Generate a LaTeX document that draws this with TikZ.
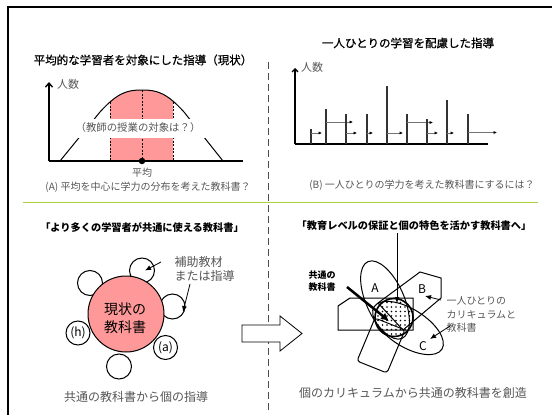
\documentclass[tikz,border=0pt]{standalone}
\usepackage{fontspec}
\newfontfamily\jpfont{Noto Sans CJK JP}
\newfontfamily\jpmedium[FakeBold=0.8]{Noto Sans CJK JP}
\usepackage{tikz}
\usetikzlibrary{arrows.meta}
\usetikzlibrary{patterns.meta}
\definecolor{pinkfill}{RGB}{255,153,153}
\definecolor{limeline}{RGB}{170,208,60}
\definecolor{captiongray}{RGB}{85,85,85}

\begin{document}
\begin{tikzpicture}[x=1pt, y=-1pt,
        every node/.style={font=\jpfont},
        title_style/.style={font=\jpmedium\fontsize{11.5}{14}\selectfont},
        bold_title_style/.style={font=\jpfont\bfseries\fontsize{10.2}{12}\selectfont},
        caption_style/.style={text=captiongray,font=\jpfont\fontsize{10}{12}\selectfont},
        big_caption_style/.style={text=captiongray,font=\jpfont\fontsize{12}{14}\selectfont},
        axis_label_style/.style={text=captiongray,font=\jpfont\fontsize{11}{13}\selectfont},
        axis_style/.style={draw=black, line width=1.4pt},
        bar_style/.style={draw=black!80, line width=1.1pt},
        shift_style/.style={draw=black!55, line width=0.8pt,-{Latex[length=3.5pt,width=3.2pt,black]}},
        guide_style/.style={draw=black, line width=0.6pt, dash pattern=on 2pt off 1.5pt},
        sub_node_style/.style={circle,draw=black,line width=1pt,fill=white,minimum size=25pt,inner sep=0pt,font=\jpfont\fontsize{12}{14}\selectfont},
        main_node_style/.style={circle,draw=black,line width=1pt,fill=pinkfill,minimum size=76pt,inner sep=0pt,align=center,font=\jpfont\fontsize{14}{19}\selectfont},
        pointer_style/.style={draw=black, line width=0.8pt,-{Latex[length=6pt,width=5pt]}},
        set_label_style/.style={font=\jpfont\fontsize{12}{14}\selectfont},
        region_style/.style={draw=black, line width=1pt}]

        \useasboundingbox (0,0) rectangle (552,415);

        \draw [line width=2.5pt] (8,415) -- (8,7) -- (552,7);

        \draw [black!70, line width=0.9pt, dash pattern=on 7pt off 4pt] (268,62) -- (268,410);

        \draw [limeline, line width=1.5pt] (23,202.5) -- (538,202.5);

        \node [title_style](title_a) at (143,60) {平均的な学習者を対象にした指導（現状）};

        \node [title_style](title_b) at (408,43) {一人ひとりの学習を配慮した指導};

        \begin{scope}
        \clip (60,161) -- (100,112) .. controls (118,92) and (128,90) .. (142,90) .. controls (156,90) and (166,92) .. (184,112) -- (223,161) -- cycle;
        \fill [pinkfill] (110,80) rectangle (173,161);
        \end{scope}

        \draw [guide_style] (110,102) -- (110,161);

        \draw [guide_style] (142,90) -- (142,161);

        \draw [guide_style] (173.5,102) -- (173.5,161);

        \draw [line width=1pt] (60,161) -- (100,112) .. controls (118,92) and (128,90) .. (142,90) .. controls (156,90) and (166,92) .. (184,112) -- (223,161);

        \node [caption_style, fill=white, minimum height=19pt, inner xsep=5pt, font=\jpfont\fontsize{10.4}{12}\selectfont](target_q) at (138,128) {（教師の授業の対象は？）};

        \coordinate (origin_a) at (49,161);
        \coordinate (top_a) at (49,82);
        \coordinate (end_a) at (243,161);

        \draw [axis_style, -{Straight Barb[length=4pt,width=7pt]}] (origin_a) -- (top_a);

        \draw [axis_style] (origin_a) -- (end_a);

        \node [axis_label_style](count_a) at (68,84) {人数};

        \node [circle, fill=black, inner sep=0pt, minimum size=6.5pt](avg) at (142,161) {};

        \node [caption_style](avg_label) at (142,172.5) {平均};

        \node [caption_style](caption_a) at (148,187) {(A) 平均を中心に学力の分布を考えた教科書？};

        \coordinate (origin_b) at (295,144);
        \coordinate (top_b) at (295,68);
        \coordinate (end_b) at (488,144);

        \draw [axis_style, -{Straight Barb[length=3pt,width=6pt]}] (origin_b) -- (top_b);

        \draw [axis_style] (origin_b) -- (end_b);

        \node [axis_label_style](count_b) at (312,67) {人数};

        \draw [bar_style] (311,144) -- (311,129);
        \draw [shift_style] (311,133) -- (322,133);

        \draw [bar_style] (326,144) -- (326,109);
        \draw [shift_style] (326,122) -- (353,122);

        \draw [bar_style] (346,144) -- (346,114);
        \draw [shift_style] (346,133) -- (357,133);

        \draw [bar_style] (367,144) -- (367,114);
        \draw [shift_style] (367,133) -- (373,133);

        \draw [bar_style] (387,144) -- (387,86);
        \draw [shift_style] (387,133) -- (403,133);

        \draw [bar_style] (407,144) -- (407,114);
        \draw [shift_style] (407,122.5) -- (433,122.5);

        \draw [bar_style] (427,144) -- (427,119);
        \draw [shift_style] (427,133) -- (438,133);

        \draw [bar_style] (447,144) -- (447,100);
        \draw [shift_style] (447,133) -- (454,133);

        \draw [bar_style] (468,144) -- (468,114);
        \draw [shift_style] (468,132.5) -- (497,132.5);

        \node [caption_style](caption_b) at (422,185) {(B) 一人ひとりの学力を考えた教科書にするには？};

        \node [bold_title_style](title_c) at (142,228) {「より多くの学習者が共通に使える教科書」};

        \node [sub_node_style](s_top) at (142,270.5) {};

        \node [sub_node_style](s_upleft) at (90,283) {};

        \node [sub_node_style](s_right) at (172.5,306.5) {};

        \node [sub_node_style, minimum size=24pt](s_h) at (78,333) {(h)};

        \node [sub_node_style, minimum size=24pt](s_a) at (165.5,347.5) {(a)};

        \node [sub_node_style](s_bottom) at (119,366.5) {};

        \node [main_node_style](textbook) at (126,314) {};

        \node [font=\jpfont\fontsize{14}{18}\selectfont, align=center](textbook_text) at (125,318) {現状の\\教科書};

        \node [big_caption_style, align=left, anchor=west](aux) at (171,268.5) {補助教材\\または指導};

        \coordinate (aux_p1) at (161,262);
        \coordinate (aux_t1) at (145,270.5);
        \coordinate (aux_p2) at (190,284);
        \coordinate (aux_t2) at (183,312);

        \draw [pointer_style] (aux_p1) -- (aux_t1);

        \draw [pointer_style] (aux_p2) -- (aux_t2);

        \node [big_caption_style](caption_c) at (136,397) {共通の教科書から個の指導};

        \draw [fill=white, line width=0.8pt] (242,325) -- (280,325) -- (280,316) -- (302,333.5) -- (280,351) -- (280,342) -- (242,342) -- cycle;

        \node [bold_title_style](title_d) at (414,226) {「教育レベルの保証と個の特色を活かす教科書へ」};

        \fill [white] (394,317.5) circle [radius=19pt];
        \fill [pattern={Dots[distance=4.5pt,radius=0.8pt]}] (394,317.5) circle [radius=19pt];

        \draw [region_style] (338,330) -- (338,306) -- (350,298) -- (413,298) -- (413,330) -- cycle;

        \draw [region_style] (420,272) -- (441,278) -- (441,298) -- (403,330) -- (378,303) -- cycle;

        \draw [region_style, rounded corners=3pt] (375,318) -- (405,330) -- (387,373) -- (357,361) -- cycle;

        \draw [region_style, rotate around={-66:(385,300)}] (385,300) ellipse [x radius=42pt, y radius=19pt];

        \draw [region_style, rotate around={-32:(408,328)}] (408,328) ellipse [x radius=40pt, y radius=19pt];

        \draw [line width=1.6pt] (394,317.5) circle [radius=19pt];

        \node [set_label_style](set_a) at (375,288) {A};

        \node [set_label_style](set_b) at (422,289) {B};

        \node [set_label_style](set_c) at (423,346) {C};

        \coordinate (common_top) at (397,233);
        \coordinate (common_tip) at (397,303);

        \draw [pointer_style] (common_top) -- (common_tip);

        \node [font=\jpfont\bfseries\fontsize{9}{12}\selectfont, align=center](common) at (322,281.5) {共通の\\教科書};

        \coordinate (common_p) at (347,287);
        \coordinate (common_t) at (389,321);

        \draw [draw=black, line width=2.5pt, -{Latex[length=8pt,width=8pt]}] (common_p) -- (common_t);

        \node [caption_style, align=left, anchor=west, font=\jpfont\fontsize{10}{13.5}\selectfont](own) at (443,314.5) {一人ひとりの\\カリキュラムと\\教科書};

        \coordinate (own_p1) at (441,300);
        \coordinate (own_t1) at (425,296);
        \coordinate (own_p2) at (450,326);
        \coordinate (own_t2) at (430,339);

        \draw [pointer_style] (own_p1) -- (own_t1);

        \draw [pointer_style] (own_p2) -- (own_t2);

        \node [big_caption_style](caption_d) at (413,393) {個のカリキュラムから共通の教科書を創造};

        \end{tikzpicture}
\end{document}
